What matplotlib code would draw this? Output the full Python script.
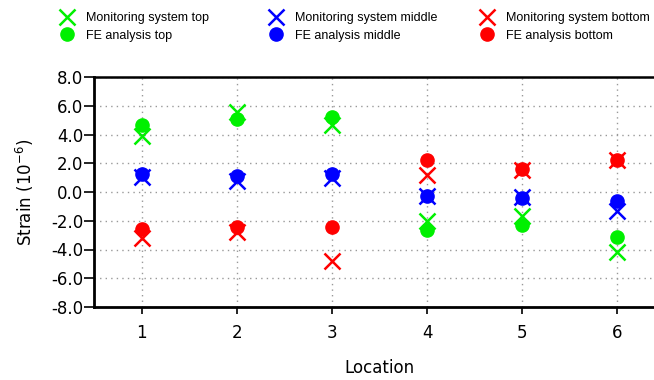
#!/usr/bin/env python3
# -*- coding: utf-8 -*-
"""
Strain at six locations: monitoring system vs FE analysis
"""

import matplotlib
matplotlib.use("Agg")
import matplotlib.pyplot as plt

#%% data

locations = [1, 2, 3, 4, 5, 6]

mon_top    = [3.9, 5.6, 4.65, -2.05, -1.7, -4.2]
mon_middle = [1.05, 0.8, 0.95, -0.3, -0.35, -1.35]
mon_bottom = [-3.2, -2.75, -4.8, 1.2, 1.55, 2.25]

fe_top    = [4.65, 5.1, 5.25, -2.65, -2.3, -3.1]
fe_middle = [1.25, 1.1, 1.25, -0.3, -0.45, -0.65]
fe_bottom = [-2.6, -2.4, -2.45, 2.2, 1.6, 2.25]

yticks = [-8, -6, -4, -2, 0, 2, 4, 6, 8]

#%% plot

W, H = 654, 380
fig = plt.figure(figsize=(W / 100, H / 100), dpi=100)

# axes runs a little past the right border, like the original
ax = fig.add_axes([94 / W, 1 - 307 / H, (665 - 94) / W, 230 / H])

green, blue, red = "#00f000", "#0000ff", "#ff0000"

series = [
    (mon_top, fe_top, green, "top"),
    (mon_middle, fe_middle, blue, "middle"),
    (mon_bottom, fe_bottom, red, "bottom"),
]

handles = []
for mon, fe, col, name in series:
    h1, = ax.plot(locations, mon, ls="none", marker="x", ms=11.5, mew=1.8,
                  color=col, label="Monitoring system " + name, zorder=3)
    h2, = ax.plot(locations, fe, ls="none", marker="o", ms=9.5,
                  color=col, label="FE analysis " + name, zorder=3)
    handles.append((h1, h2))

ax.set_xlim(0.5, 6.5)
ax.set_ylim(-8, 8)
ax.set_xticks(locations)
ax.set_yticks(yticks)
ax.set_yticklabels([f"{v:.1f}" for v in yticks])

ax.grid(True, color="#999999", ls=(0, (1, 3)), lw=1)
ax.set_axisbelow(True)

for s in ["left", "bottom"]:
    ax.spines[s].set_linewidth(2)
ax.spines["top"].set_linewidth(1.8)
ax.spines["right"].set_visible(False)

ax.tick_params(axis="x", direction="out", length=5, width=1.2,
               labelsize=12, pad=7)
ax.tick_params(axis="y", direction="out", length=7, width=1.2,
               labelsize=12, pad=0.5)

ax.set_xlabel("Location", fontsize=12, va="center")
ax.xaxis.set_label_coords(0.5 - (380 - 379.5) / 571, -(368 - 307) / 230)
ax.set_ylabel("Strain (10$^{\\mathregular{-6}}$)", fontsize=12, va="center")
ax.yaxis.set_label_coords(-(94 - 25) / 571, 0.5)

# three little legends at the top, one per position
legend_x = [60, 269, 480]
for (h1, h2), lx in zip(handles, legend_x):
    fig.legend([h1, h2], [h1.get_label(), h2.get_label()],
               loc="upper left", bbox_to_anchor=(lx / W, 1 - 12 / H),
               frameon=False, borderpad=0, borderaxespad=0,
               handlelength=1.1, handletextpad=0.95, labelspacing=0.45,
               prop={"family": "Liberation Sans", "size": 9})

fig.savefig("out.png", dpi=100)
